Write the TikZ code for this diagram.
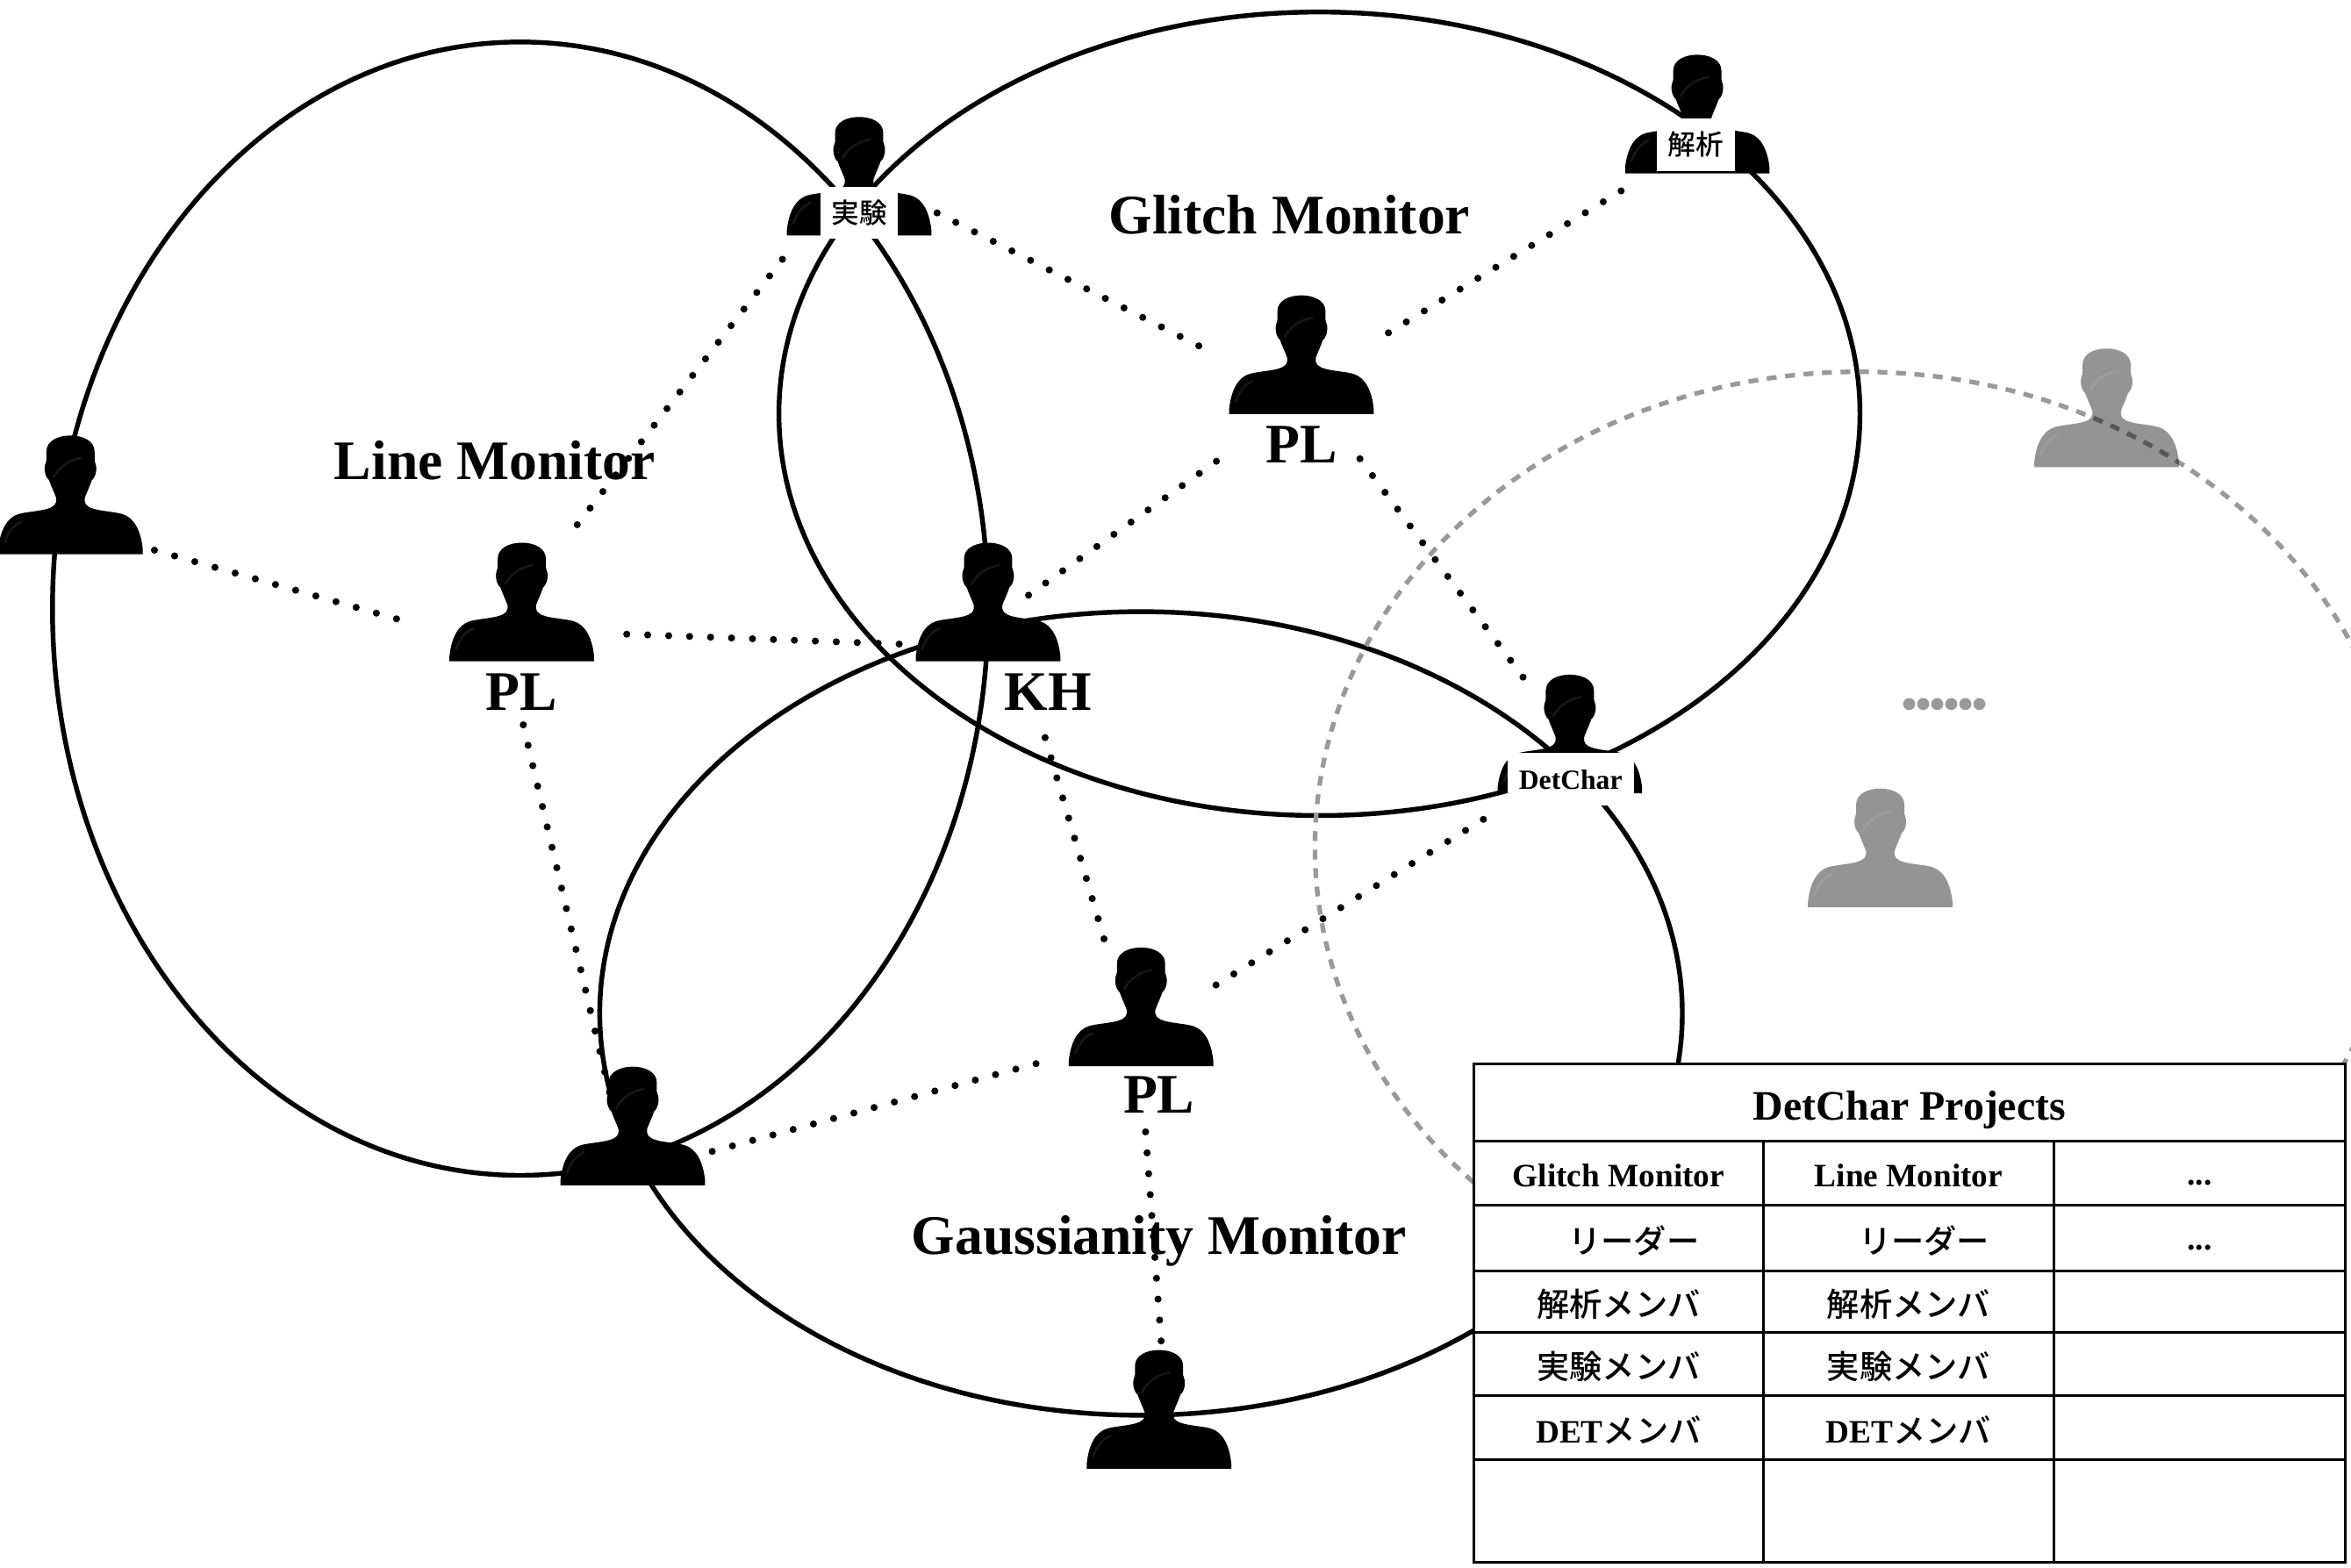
\documentclass[tikz,border=0pt]{standalone}
\usepackage{fontspec}
\setmainfont{Liberation Serif}
\newfontfamily\cjk[BoldFont={Noto Sans CJK JP Medium}]{Noto Sans CJK JP}
\tikzset{
  x=0.0170855cm, y=-0.0170855cm,
  setline/.style={line width=1.55pt, black},
  grayline/.style={line width=1.5pt, black!40, dash pattern=on 3.2pt off 2.8pt},
  dotlink/.style={line width=2.3pt, black, line cap=round, dash pattern=on 0pt off 6.8pt},
  slot/.style={inner sep=0pt, outer sep=0pt, minimum width=1.64cm, minimum height=1.35cm},
  setlabel/.style={font=\bfseries\fontsize{18.1}{20}\selectfont, inner sep=0pt},
  tag/.style={fill=white, inner sep=0pt, font=\bfseries\fontsize{9}{10}\selectfont},
  tableline/.style={line width=0.85pt, black, fill=white},
  celltext/.style={inner sep=0pt, yshift=-0.7pt, font=\bfseries\fontsize{10.6}{12}\selectfont},
  person/.pic={
    \path[pic actions] (-81,133) -- (-81,127) .. controls (-79,108) and (-72,92) .. (-58,88)
      .. controls (-44,84) and (-17,85) .. (-16,74) -- (-16,70)
      .. controls (-19,62) and (-22,56) .. (-24,50)
      .. controls (-27,48) and (-29,42) .. (-29,37)
      .. controls (-29,32) and (-27,30) .. (-27,28) -- (-27,18)
      .. controls (-27,6) and (-14,0) .. (0,0)
      .. controls (14,0) and (27,6) .. (27,18) -- (27,28)
      .. controls (27,30) and (29,32) .. (29,37)
      .. controls (29,42) and (27,48) .. (24,50)
      .. controls (22,56) and (19,62) .. (16,70) -- (16,74)
      .. controls (17,85) and (44,84) .. (58,88)
      .. controls (72,92) and (79,108) .. (81,127) -- (81,133) -- cycle;
    \draw[white, opacity=0.09, line width=0.7pt] (-19,47) .. controls (-12,34) and (0,27) .. (13,25);
    \draw[white, opacity=0.09, line width=0.7pt] (-74,120) .. controls (-70,108) and (-64,100) .. (-54,96);
  }
}
\newcommand{\personat}[4]{%
  \node[slot] (#1) at (#2,#3) {};
  \pic[fill=black, fill opacity=#4] at (#2,#3-39.5) [scale=0.595] {person};
}
\newcommand{\tcell}[6]{%
  \draw[tableline] (#2,#3) rectangle (#4,#5);
  \node[celltext] (#1) at ({(#2+#4)/2},{(#3+#5)/2}) {#6};
}
\begin{document}
\begin{tikzpicture}
\useasboundingbox (0,0) rectangle (1568,1045.9);
% working-group sets
\draw[setline] (347,406) ellipse [x radius=312, y radius=378];
\draw[setline] (880,276) ellipse [x radius=360.5, y radius=268];
\draw[setline] (761,676) ellipse [x radius=361, y radius=268];
\draw[grayline] (1240,565) ellipse [x radius=363, y radius=317];
% people
\personat{left}{47}{330}{1}
\personat{linePL}{348}{401.5}{1}
\personat{KH}{659}{401.5}{1}
\personat{glitchPL}{868}{236.5}{1}
\personat{exp}{573}{117.5}{1}
\personat{ana}{1132}{76}{1}
\personat{det}{1047}{489.5}{1}
\personat{gaussPL}{761}{671.5}{1}
\personat{bl}{422}{751}{1}
\personat{bot}{773}{940}{1}
\personat{grayA}{1405}{272}{0.42}
\personat{grayB}{1254}{565.5}{0.42}
% labels
\node[setlabel] (lmon) at (330,307) {Line Monitor};
\node[setlabel] (gmon) at (860,143) {Glitch Monitor};
\node[setlabel] (gamon) at (773,828) {Gaussianity Monitor};
\node[setlabel] (plA) at (348,461.5) {PL};
\node[setlabel] (kh) at (699,461.5) {KH};
\node[setlabel] (plB) at (868,296.5) {PL};
\node[setlabel] (plC) at (773,730.5) {PL};
\node[inner sep=0pt, text=black!40, font=\bfseries\fontsize{24}{26}\selectfont] (more) at (1297,470) {.\kern-1.45pt.\kern-1.45pt.\kern-1.45pt.\kern-1.45pt.\kern-1.45pt.};
% dotted relations
\draw[dotlink] ([shift={(56,37)}]left.center) -- ([shift={(-74,14)}]linePL.center);
\draw[dotlink] ([shift={(37,-51.5)}]linePL.center) -- ([shift={(-45,47.5)}]exp.center);
\draw[dotlink] ([shift={(70,21.5)}]linePL.center) -- ([shift={(-49,28.5)}]KH.center);
\draw[dotlink] ([shift={(1,22)}]plA.center) -- ([shift={(-14,-16)}]bl.center);
\draw[dotlink] ([shift={(27,-4.5)}]KH.center) -- ([shift={(-53,68.5)}]glitchPL.center);
\draw[dotlink] ([shift={(52,24.5)}]exp.center) -- ([shift={(-63,-3)}]glitchPL.center);
\draw[dotlink] ([shift={(58,-14.5)}]glitchPL.center) -- ([shift={(-47,49)}]ana.center);
\draw[dotlink] ([shift={(39,69.5)}]glitchPL.center) -- ([shift={(-25,-29.5)}]det.center);
\draw[dotlink] ([shift={(38,90.5)}]KH.center) -- ([shift={(-23,-39.5)}]gaussPL.center);
\draw[dotlink] ([shift={(50,-14.5)}]gaussPL.center) -- ([shift={(-52,53.5)}]det.center);
\draw[dotlink] ([shift={(53,17)}]bl.center) -- ([shift={(-59,35)}]gaussPL.center);
\draw[dotlink] ([shift={(3,83.5)}]gaussPL.center) -- ([shift={(2,-38)}]bot.center);
% role tags
\node[tag, minimum width=0.888cm, minimum height=0.59cm] (expTag) at (573,142) {\cjk 実験};
\node[tag, minimum width=0.89cm, minimum height=0.6cm] (anaTag) at (1131,96.5) {\cjk 解析};
\node[tag, minimum width=1.44cm, minimum height=0.6cm] (detTag) at (1047.5,520) {DetChar};
% table
\tcell{title}{983}{709.5}{1564}{761}{}
\node[celltext, font=\bfseries\fontsize{13.6}{15}\selectfont, yshift=-1.2pt] (titletext) at (title) {DetChar Projects};
\tcell{c11}{983}{761}{1176}{804}{Glitch Monitor}
\tcell{c12}{1176}{761}{1370}{804}{Line Monitor}
\tcell{c13}{1370}{761}{1564}{804}{}
\node[celltext, yshift=-1.7pt] (d13) at (c13) {...};
\tcell{c21}{983}{804}{1176}{848}{\hspace{10pt}\cjk リーダー}
\tcell{c22}{1176}{804}{1370}{848}{\hspace{10pt}\cjk リーダー}
\tcell{c23}{1370}{804}{1564}{848}{}
\node[celltext, yshift=-1.7pt] (d23) at (c23) {...};
\tcell{c31}{983}{848}{1176}{889}{\cjk 解析メンバ}
\tcell{c32}{1176}{848}{1370}{889}{\cjk 解析メンバ}
\tcell{c33}{1370}{848}{1564}{889}{}
\tcell{c41}{983}{889}{1176}{931}{\cjk 実験メンバ}
\tcell{c42}{1176}{889}{1370}{931}{\cjk 実験メンバ}
\tcell{c43}{1370}{889}{1564}{931}{}
\tcell{c51}{983}{931}{1176}{973.5}{DET{\cjk メンバ}}
\tcell{c52}{1176}{931}{1370}{973.5}{DET{\cjk メンバ}}
\tcell{c53}{1370}{931}{1564}{973.5}{}
\tcell{c61}{983}{973.5}{1176}{1042}{}
\tcell{c62}{1176}{973.5}{1370}{1042}{}
\tcell{c63}{1370}{973.5}{1564}{1042}{}
\end{tikzpicture}
\end{document}
